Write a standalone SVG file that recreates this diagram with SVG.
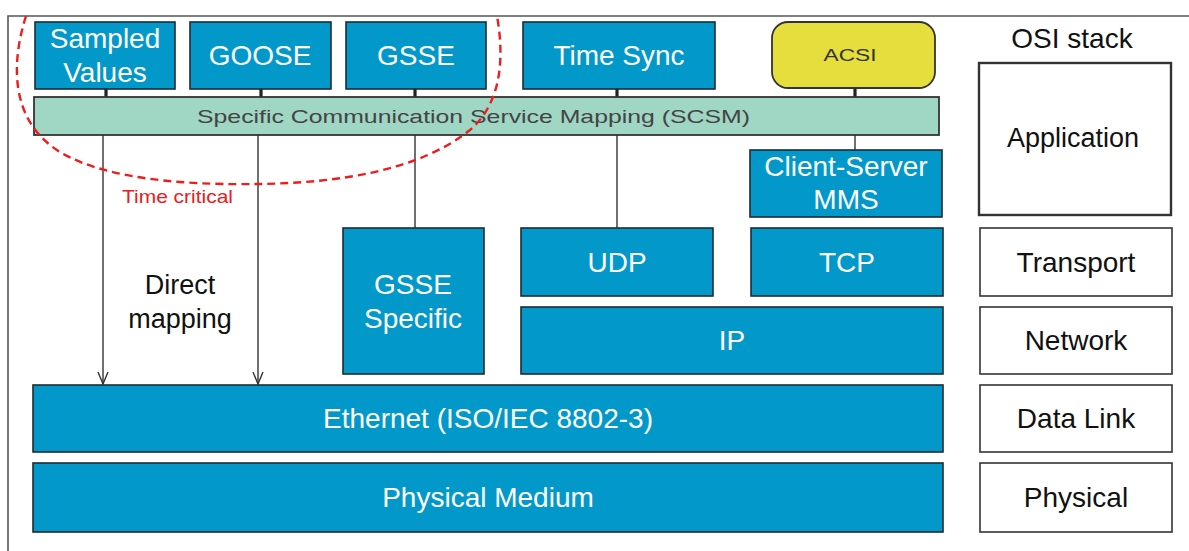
<svg xmlns="http://www.w3.org/2000/svg" width="1189" height="551" viewBox="0 0 1189 551">
<defs>
<style>
.blue{fill:#0398ca;stroke:#1d2b33;stroke-width:1.6}
.osi{fill:#ffffff;stroke:#333333;stroke-width:1.6}
.wt{fill:#ffffff;font-family:"Liberation Sans",Arial,sans-serif;font-size:28px;text-anchor:middle}
.bt{fill:#111111;font-family:"Liberation Sans",Arial,sans-serif;font-size:28px;text-anchor:middle}
.stub{stroke:#222222;stroke-width:3.2}
.ln{stroke:#333333;stroke-width:1.4;fill:none}
</style>
<marker id="arr" viewBox="0 0 14 12" refX="13" refY="6" markerWidth="14" markerHeight="12" markerUnits="userSpaceOnUse" orient="auto">
<path d="M1,1 L13,6 L1,11" fill="none" stroke="#333333" stroke-width="1.4"/>
</marker>
</defs>
<rect x="0" y="0" width="1189" height="551" fill="#ffffff"/>
<path d="M8,551 L8,16 L1189,16" fill="none" stroke="#555555" stroke-width="1.6"/>

<g id="connectors">
<line class="stub" x1="106" y1="89" x2="106" y2="97"/>
<line class="stub" x1="261" y1="89" x2="261" y2="97"/>
<line class="stub" x1="415" y1="89" x2="415" y2="97"/>
<line class="stub" x1="617" y1="89" x2="617" y2="97"/>
<line class="stub" x1="855" y1="88" x2="855" y2="97"/>
<line class="ln" x1="103" y1="135" x2="103" y2="384" marker-end="url(#arr)"/>
<line class="ln" x1="258" y1="135" x2="258" y2="384" marker-end="url(#arr)"/>
<line class="ln" x1="415" y1="135" x2="415" y2="228"/>
<line class="ln" x1="617" y1="135" x2="617" y2="228"/>
<line class="ln" x1="855" y1="135" x2="855" y2="150"/>
</g>

<g id="sampled-values">
<rect class="blue" x="35" y="22" width="140" height="67"/>
<text class="wt" x="105" y="48">Sampled</text>
<text class="wt" x="105" y="82">Values</text>
</g>
<g id="goose">
<rect class="blue" x="190" y="22" width="141" height="67"/>
<text class="wt" x="260" y="65">GOOSE</text>
</g>
<g id="gsse">
<rect class="blue" x="346" y="22" width="140" height="67"/>
<text class="wt" x="416" y="65">GSSE</text>
</g>
<g id="time-sync">
<rect class="blue" x="523" y="22" width="192" height="67"/>
<text class="wt" x="619" y="65">Time Sync</text>
</g>
<g id="acsi">
<rect x="772" y="22" width="163" height="66" rx="16" ry="16" fill="#e6de3d" stroke="#333333" stroke-width="1.8"/>
<text x="850" y="61" fill="#333333" font-family="Liberation Sans,Arial,sans-serif" font-size="16" text-anchor="middle" textLength="53" lengthAdjust="spacingAndGlyphs">ACSI</text>
</g>
<g id="scsm">
<rect x="34" y="97" width="905" height="38" fill="#9fd6c4" stroke="#333333" stroke-width="1.8"/>
<text x="197" y="123" fill="#444444" font-family="Liberation Sans,Arial,sans-serif" font-size="19" textLength="553" lengthAdjust="spacingAndGlyphs">Specific Communication Service Mapping (SCSM)</text>
</g>
<g id="client-server-mms">
<rect class="blue" x="750" y="150" width="192" height="67"/>
<text class="wt" x="846" y="176">Client-Server</text>
<text class="wt" x="846" y="209">MMS</text>
</g>
<g id="gsse-specific">
<rect class="blue" x="343" y="228" width="141" height="146"/>
<text class="wt" x="413" y="294">GSSE</text>
<text class="wt" x="413" y="328">Specific</text>
</g>
<g id="udp">
<rect class="blue" x="521" y="228" width="192" height="68"/>
<text class="wt" x="617" y="272">UDP</text>
</g>
<g id="tcp">
<rect class="blue" x="751" y="228" width="192" height="68"/>
<text class="wt" x="847" y="272">TCP</text>
</g>
<g id="ip">
<rect class="blue" x="521" y="307" width="422" height="67"/>
<text class="wt" x="732" y="350">IP</text>
</g>
<g id="ethernet">
<rect class="blue" x="33" y="385" width="910" height="67"/>
<text class="wt" x="488" y="428">Ethernet (ISO/IEC 8802-3)</text>
</g>
<g id="physical-medium">
<rect class="blue" x="33" y="463" width="910" height="69"/>
<text class="wt" x="488" y="507">Physical Medium</text>
</g>

<g id="osi-stack">
<text class="bt" x="1072" y="48" font-size="27">OSI stack</text>
</g>
<g id="osi-application">
<rect x="979" y="63" width="192" height="152" fill="#ffffff" stroke="#333333" stroke-width="2.4"/>
<text class="bt" x="1073" y="147" style="font-size:27px">Application</text>
</g>
<g id="osi-transport">
<rect class="osi" x="980" y="228" width="192" height="68"/>
<text class="bt" x="1076" y="272">Transport</text>
</g>
<g id="osi-network">
<rect class="osi" x="980" y="307" width="192" height="67"/>
<text class="bt" x="1076" y="350">Network</text>
</g>
<g id="osi-datalink">
<rect class="osi" x="980" y="385" width="192" height="67"/>
<text class="bt" x="1076" y="428">Data Link</text>
</g>
<g id="osi-physical">
<rect class="osi" x="980" y="463" width="192" height="69"/>
<text class="bt" x="1076" y="507">Physical</text>
</g>

<g id="direct-mapping">
<text class="bt" x="180" y="294" style="font-size:27px">Direct</text>
<text class="bt" x="180" y="328" style="font-size:27px">mapping</text>
</g>

<g id="time-critical">
<path d="M26,16 C12,60 8,120 60,152 C110,182 200,185 258,184 C340,183 420,170 470,130 C505,100 503,50 497,16" fill="none" stroke="#ee1c1c" stroke-width="2.4" stroke-dasharray="8,5"/>
<text x="122" y="203" fill="#e82020" font-family="Liberation Sans,Arial,sans-serif" font-size="19" textLength="111" lengthAdjust="spacingAndGlyphs">Time critical</text>
</g>
</svg>
